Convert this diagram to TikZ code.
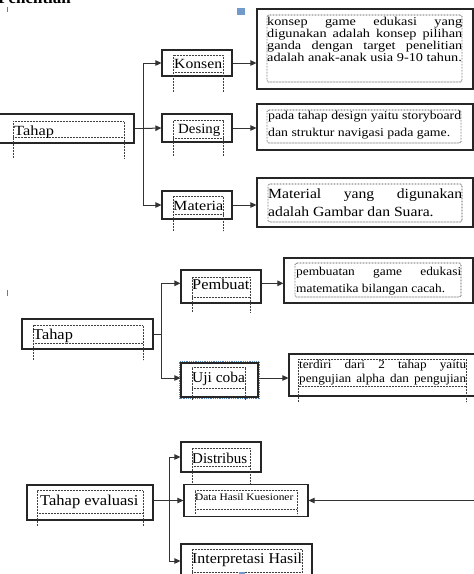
\documentclass[tikz,border=0pt]{standalone}
\usepackage{fontspec}
\setmainfont{Liberation Serif}
\usepackage{graphicx}
\usetikzlibrary{arrows.meta}
\definecolor{selblue}{HTML}{4F81BD}
\newcommand{\tx}[3]{{\fontsize{#1}{#1}\selectfont\scalebox{#2}[1]{#3}}}
\newcommand{\jl}[2]{\makebox[#1][s]{#2}}
% size, skip, sx, width, lines
\newcommand{\para}[5]{\scalebox{#3}[1]{\parbox[t]{#4}{\fontsize{#1}{#2}\selectfont #5}}}
\newcommand{\dframe}[5]{%
  \draw[dot] (#1,#5) -- (#1,#2) -- (#3,#2) -- (#3,#5);
  \draw[dot] (#1,#4) -- (#3,#4);}
\begin{document}
\begin{tikzpicture}[x=1pt, y=-1pt,
  box/.style={draw=black!85, line width=1.2pt, inner sep=0pt},
  conn/.style={line width=1pt, draw=black!80},
  arr/.style={conn, -{Triangle[length=6pt,width=5.5pt]}},
  dot/.style={line width=0.7pt, draw=black!75, dash pattern=on 0.7pt off 0.8pt},
  lbl/.style={anchor=base west, inner sep=0pt}]
\clip (0,0) rectangle (474,574);
\fill[white] (0,0) rectangle (474,574);

% clipped heading
\node[lbl, font=\bfseries\fontsize{17}{17}\selectfont] (hd) at (-2,3.5) {Penelitian};
\draw[selblue, line width=0.8pt] (7,7) -- (7,12);
\fill[selblue!80] (237,8) rectangle (245,15);

% ---------- Section 1 ----------
\node[box, minimum width=136pt, minimum height=29pt] (T1) at (66,128.5) {};
\node[box, minimum width=70pt, minimum height=26pt] (K) at (197,63) {};
\node[box, minimum width=70pt, minimum height=28pt] (D) at (197,128) {};
\node[box, minimum width=70pt, minimum height=28pt] (M) at (197,205) {};
\node[box, minimum width=216pt, minimum height=80pt] (B1) at (365,49) {};
\node[box, minimum width=216pt, minimum height=46pt] (B2) at (365,127) {};
\node[box, minimum width=216pt, minimum height=49pt] (B3) at (365,202.5) {};

\dframe{13}{121}{124}{137}{158}
\dframe{173}{55}{223}{72.5}{92}
\dframe{173}{120.5}{223}{138}{156}
\dframe{173}{196}{223}{214}{231}
\draw[dot, rounded corners=1.5pt] (267,15) rectangle (462,82);
\draw[dot, rounded corners=1.5pt] (267,110) rectangle (461,143);
\draw[dot, rounded corners=1.5pt] (268,184) rectangle (462,222);

\node[lbl] (tT1) at (14,135) {\tx{14}{1.17}{Tahap}};
\node[lbl] (tK) at (174,68.5) {\tx{14}{1.12}{Konsen}};
\node[lbl] (tD) at (178,133.5) {\tx{14}{1.06}{Desing}};
\node[lbl] (tM) at (173,210.5) {\tx{14}{1.15}{Materia}};

\node[lbl] (tB1) at (267,25) {\para{12}{12}{1.19}{163.9pt}{%
\jl{163.9pt}{konsep game edukasi yang}\\
\jl{163.9pt}{digunakan adalah konsep pilihan}\\
\jl{163.9pt}{ganda dengan target penelitian}\\
adalah anak-anak usia 9-10 tahun.}};
\node[lbl] (tB2) at (268,119) {\para{12}{17}{1.15}{167.8pt}{%
\jl{167.8pt}{pada tahap design yaitu storyboard}\\
dan struktur navigasi pada game.}};
\node[lbl] (tB3) at (268,198) {\para{14}{18}{1.12}{173.2pt}{%
\jl{173.2pt}{Material yang digunakan}\\
adalah Gambar dan Suara.}};

\coordinate (j1) at (143,128.5);
\draw[conn] (T1.east) -- (j1);
\draw[arr] (j1) |- (K.west);
\draw[arr] (j1) -- (D.west);
\draw[arr] (j1) |- (M.west);
\draw[arr] (K.east) -- (K.east -| B1.west);
\draw[arr] (D.east) -- (D.east -| B2.west);
\draw[arr] (M.east) -- (M.east -| B3.west);

% ---------- Section 2 ----------
\draw[selblue, line width=0.8pt] (7,290) -- (7,296);
\node[box, minimum width=131pt, minimum height=30pt] (T2) at (87.5,334) {};
\node[box, minimum width=80pt, minimum height=33pt] (P) at (221,286.5) {};
\node[box, minimum width=77pt, minimum height=34pt] (U) at (219.5,380) {};
\draw[selblue, line width=0.7pt, dash pattern=on 1pt off 0.8pt] (179.5,361.5) rectangle (259,398);
\node[box, minimum width=189pt, minimum height=45pt] (PB) at (378.5,280.5) {};
\node[box, minimum width=191pt, minimum height=42pt] (TD) at (384.5,375) {};

\dframe{33}{325}{143}{343}{360}
\dframe{192}{277}{250}{297}{312}
\dframe{192}{367}{245.5}{388}{400}
\draw[dot, rounded corners=1.5pt] (295,263) rectangle (461,297);
\dframe{298.5}{359}{466}{386}{402}

\node[lbl] (tT2) at (33,339.5) {\tx{15}{1.09}{Tahap}};
\node[lbl] (tP) at (192,289.5) {\tx{15}{1.09}{Pembuat}};
\node[lbl] (tU) at (192,382) {\tx{15}{1.03}{Uji coba}};

\node[lbl] (tPB) at (296,275) {\para{12}{17}{1.115}{148pt}{%
\jl{148pt}{pembuatan game edukasi}\\
matematika bilangan cacah.}};
\node[lbl] (tTD) at (299,368) {\para{12}{14}{1.1}{151.8pt}{%
\jl{151.8pt}{terdiri dari 2 tahap yaitu}\\
\jl{151.8pt}{pengujian alpha dan pengujian}}};

\coordinate (j2) at (161,334);
\coordinate (pin) at ([yshift=3.2pt]P.west);
\coordinate (pout) at ([yshift=3.2pt]P.east);
\coordinate (uin) at ([yshift=2pt]U.west);
\coordinate (uout) at ([yshift=2pt]U.east);
\draw[conn] (T2.east) -- (j2);
\draw[arr] (j2) |- (pin);
\draw[arr] (j2) |- (uin);
\draw[arr] (pout) -- (pout -| PB.west);
\draw[arr] (uout) -- (uout -| TD.west);

% ---------- Section 3 ----------
\node[box, minimum width=126pt, minimum height=35pt] (TE) at (90,502.5) {};
\node[box, minimum width=80pt, minimum height=30pt] (DI) at (221,457) {};
\node[box, minimum width=124pt, minimum height=32pt] (DH) at (246,500.5) {};
\node[box, minimum width=131pt, minimum height=46pt] (IH) at (246.5,567) {};

\dframe{37}{490}{143}{513}{526}
\dframe{192}{448}{250}{466}{483}
\dframe{195}{490}{297}{509}{514}
\dframe{192}{549}{302}{572}{590}

\node[lbl] (tTE) at (40,505) {\tx{15}{1.10}{Tahap evaluasi}};
\node[lbl] (tDI) at (192,463) {\tx{15}{1.0}{Distribus}};
\node[lbl] (tDH) at (195,500) {\tx{10}{1.14}{Data Hasil Kuesioner}};
\node[lbl] (tIH) at (192,563.5) {\tx{15}{1.06}{Interpretasi Hasil}};

\coordinate (j3) at (169,500.5);
\coordinate (tex) at ([yshift=2pt]TE.east);
\coordinate (iin) at ([yshift=6pt]IH.west);
\coordinate (rin) at (480,500.5);
\draw[conn] (tex) -- (j3 |- tex);
\draw[arr] (j3) |- (DI.west);
\draw[arr] (j3) -- (DH.west);
\draw[arr] (j3) |- (iin);
\draw[arr] (rin) -- (DH.east);

\fill[selblue!80] (239,572) rectangle (245,576);
\end{tikzpicture}
\end{document}
